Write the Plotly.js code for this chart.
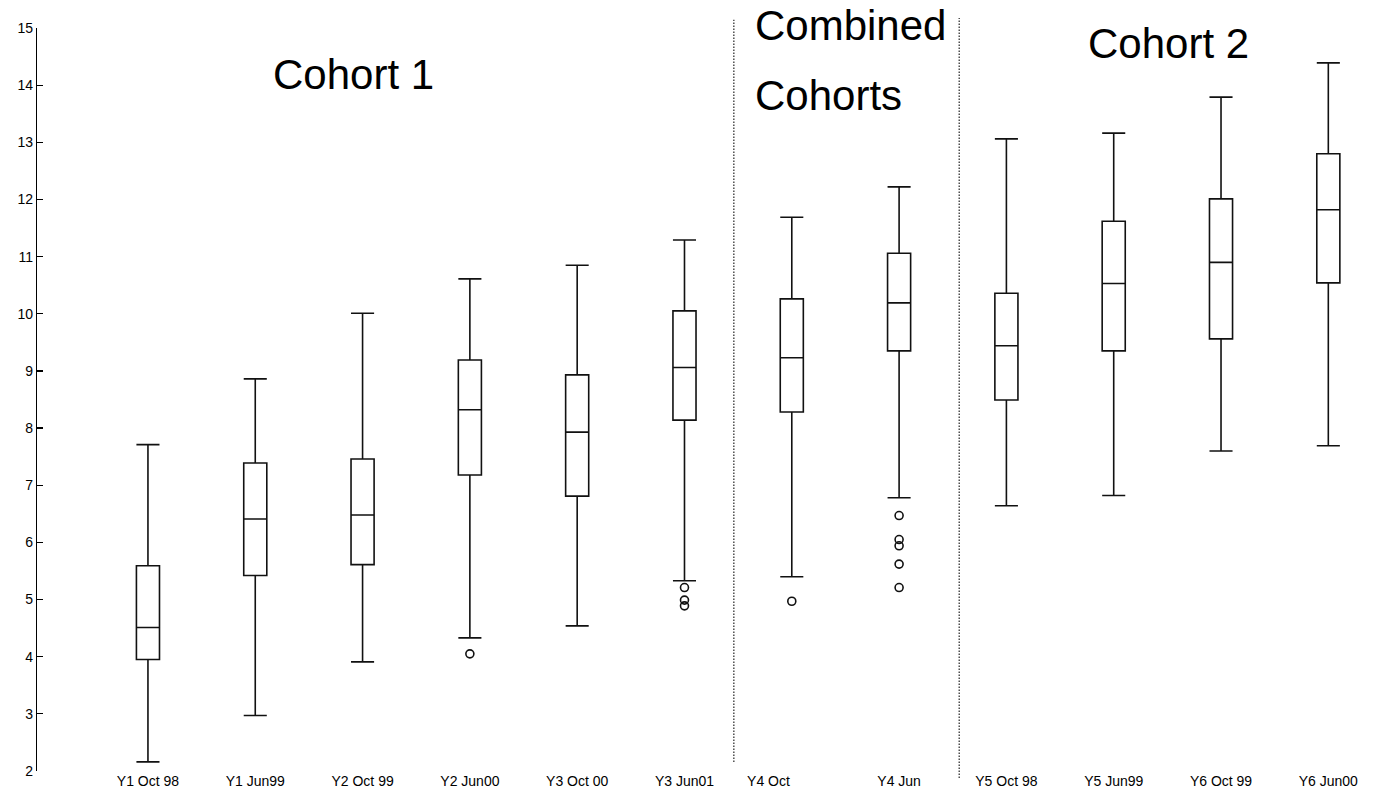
<!DOCTYPE html>
<html>
<head>
<meta charset="utf-8">
<script src="https://cdn.plot.ly/plotly-3.0.1.min.js"></script>
<style>html,body{margin:0;padding:0;background:#fff;}#chart{width:1375px;height:798px;}</style>
</head>
<body>
<div id="chart"></div>
<script>
// Tick labels / categories
const categories = ["Y1 Oct 98", "Y1 Jun99", "Y2 Oct 99", "Y2 Jun00", "Y3 Oct 00", "Y3 Jun01",
                    "Y4 Oct", "Y4 Jun", "Y5 Oct 98", "Y5 Jun99", "Y6 Oct 99", "Y6 Jun00"];
// Box statistics
const upperWhisker = [7.71, 8.86, 10.01, 10.61, 10.85, 11.29, 11.69, 12.22, 13.06, 13.16, 13.79, 14.39];
const q3Values     = [5.59, 7.39, 7.46, 9.19, 8.93, 10.05, 10.26, 11.06, 10.36, 11.62, 12.01, 12.80];
const medians      = [4.51, 6.41, 6.48, 8.32, 7.93, 9.06, 9.23, 10.19, 9.44, 10.53, 10.90, 11.82];
const q1Values     = [3.95, 5.42, 5.61, 7.18, 6.81, 8.14, 8.28, 9.35, 8.49, 9.35, 9.56, 10.54];
const lowerWhisker = [2.16, 2.97, 3.91, 4.33, 4.54, 5.33, 5.40, 6.78, 6.64, 6.82, 7.60, 7.69];
// Outliers
const outlierCategory = ["Y2 Jun00", "Y3 Jun01", "Y3 Jun01", "Y3 Jun01", "Y4 Oct",
                         "Y4 Jun", "Y4 Jun", "Y4 Jun", "Y4 Jun", "Y4 Jun"];
const outlierValues   = [4.05, 5.21, 4.99, 4.89, 4.97, 6.47, 6.05, 5.94, 5.62, 5.21];
// Region labels
const regionLabels = ["Cohort 1", "Combined", "Cohorts", "Cohort 2"];
const yTicks = [2,3,4,5,6,7,8,9,10,11,12,13,14,15];

const positions = categories.map((c, i) => i);
const tickText = categories.map(c => c === "Y4 Oct" ? c + "\u00a0".repeat(12) : c);
const FONT = "Liberation Sans, Arial, sans-serif";

const boxTrace = {
  type: "box",
  x: positions,
  q1: q1Values,
  median: medians,
  q3: q3Values,
  lowerfence: lowerWhisker,
  upperfence: upperWhisker,
  boxpoints: false,
  width: 0.215,
  whiskerwidth: 1,
  line: {color: "#111", width: 1.6},
  fillcolor: "rgba(255,255,255,0)",
  showlegend: false,
  hoverinfo: "y"
};

const outlierTrace = {
  type: "scatter",
  mode: "markers",
  x: outlierCategory.map(c => categories.indexOf(c)),
  y: outlierValues,
  marker: {symbol: "circle-open", size: 8, color: "#111", line: {width: 1.6, color: "#111"}},
  showlegend: false,
  hoverinfo: "y"
};

const layout = {
  width: 1375,
  height: 798,
  margin: {l: 37, r: 0, t: 28, b: 27},
  paper_bgcolor: "#fff",
  plot_bgcolor: "#fff",
  showlegend: false,
  font: {family: FONT, color: "#000"},
  xaxis: {
    range: [-1.034, 11.435],
    tickvals: positions,
    ticktext: tickText,
    showgrid: false,
    zeroline: false,
    showline: false,
    ticks: "",
    tickfont: {family: FONT, size: 14, color: "#000"}
  },
  yaxis: {
    range: [2, 15],
    tickvals: yTicks,
    ticktext: yTicks.map(String),
    showgrid: false,
    zeroline: false,
    showline: true,
    linecolor: "#000",
    linewidth: 1.2,
    ticks: "inside",
    ticklen: 6,
    tickwidth: 1.2,
    tickcolor: "#000",
    tickfont: {family: FONT, size: 14, color: "#000"}
  },
  shapes: [
    {type: "line", xref: "x", yref: "paper", x0: 5.46, x1: 5.46, y0: 0.012, y1: 1.011,
     line: {color: "#222", width: 1.2, dash: "1.5px,1.5px"}},
    {type: "line", xref: "x", yref: "paper", x0: 7.56, x1: 7.56, y0: -0.0094, y1: 1.0135,
     line: {color: "#222", width: 1.2, dash: "1.5px,1.5px"}}
  ],
  annotations: [
    {text: regionLabels[0], xref: "paper", yref: "paper", x: 0.2362, y: 0.938,
     xanchor: "center", yanchor: "middle", showarrow: false, font: {family: FONT, size: 42, color: "#000"}},
    {text: regionLabels[1], xref: "paper", yref: "paper", x: 0.5351, y: 1.0027,
     xanchor: "left", yanchor: "middle", showarrow: false, font: {family: FONT, size: 42, color: "#000"}},
    {text: regionLabels[2], xref: "paper", yref: "paper", x: 0.5351, y: 0.9098,
     xanchor: "left", yanchor: "middle", showarrow: false, font: {family: FONT, size: 42, color: "#000"}},
    {text: regionLabels[3], xref: "paper", yref: "paper", x: 0.846, y: 0.9798,
     xanchor: "center", yanchor: "middle", showarrow: false, font: {family: FONT, size: 42, color: "#000"}}
  ]
};

Plotly.newPlot("chart", [boxTrace, outlierTrace], layout, {displayModeBar: false, staticPlot: true});
</script>
</body>
</html>
